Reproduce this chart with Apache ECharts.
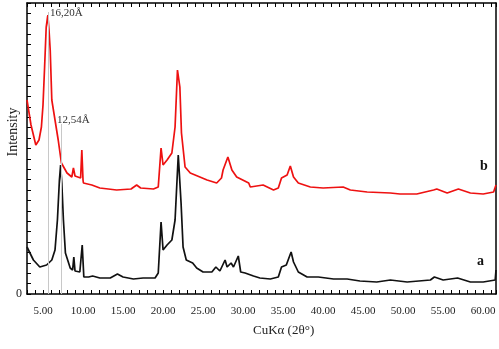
<!DOCTYPE html>
<html><head><meta charset="utf-8">
<script src="https://cdn.jsdelivr.net/npm/echarts@6/dist/echarts.min.js"></script>
<style>html,body{margin:0;padding:0;background:#fff}#c{width:499px;height:349px}</style>
</head><body><div id="c"></div>
<script>
// sample b (red): [2theta, intensity]
const seriesB = [[3.0,194],[3.5,169],[4.1,149],[4.5,154],[4.8,167],[5.0,189],[5.2,227],[5.4,267],[5.6,279],[5.75,264],[5.9,244],[6.1,194],[6.5,174],[6.9,154],[7.3,131],[8.0,121],[8.6,117],[8.8,126],[9.0,118],[9.2,116],[9.7,116],[9.85,144],[10.0,114],[10.05,111],[11.1,109],[12.1,106],[14.2,104],[16.0,105],[16.7,109],[17.2,106],[18.8,105],[19.4,107],[19.75,146],[20.0,129],[20.5,134],[21.1,141],[21.5,167],[21.8,224],[22.1,207],[22.3,161],[22.75,127],[23.4,121],[24.6,117],[25.5,114],[26.7,111],[27.3,116],[27.5,124],[28.1,137],[28.6,124],[29.2,117],[30.7,111],[30.9,107],[32.5,109],[33.8,104],[34.4,106],[34.8,116],[35.5,119],[35.9,128],[36.3,117],[36.9,111],[38.4,107],[40.0,106],[42.5,107],[43.4,104],[45.5,102],[48.4,101],[49.6,100],[51.7,100],[53.8,104],[54.2,105],[55.5,101],[56.9,105],[58.4,101],[60.0,100],[61.3,102],[61.6,109]];
// sample a (black)
const seriesA = [[3.0,47],[3.8,34],[4.6,27],[5.45,29],[6.1,34],[6.5,44],[6.8,74],[7.05,114],[7.2,129],[7.35,111],[7.55,74],[7.8,41],[8.4,26],[8.7,24],[8.85,37],[9.0,23],[9.6,22],[9.9,49],[10.1,17],[10.7,17],[11.2,18],[12.1,16],[13.4,16],[14.3,20],[15.0,17],[16.3,15],[17.5,16],[19.0,16],[19.4,21],[19.75,72],[20.0,44],[20.5,49],[21.1,54],[21.5,74],[21.9,139],[22.25,91],[22.5,47],[22.9,34],[23.7,31],[24.2,26],[25.0,22],[26.1,22],[26.6,27],[27.1,23],[27.75,34],[28.0,27],[28.5,31],[28.8,27],[29.4,38],[29.7,22],[30.25,21],[31.3,18],[32.1,16],[33.4,15],[34.4,17],[34.8,27],[35.4,29],[36.0,42],[36.3,32],[36.9,22],[38.0,17],[39.4,17],[41.3,15],[43.0,15],[44.6,13],[46.7,12],[48.4,14],[50.5,12],[53.4,14],[53.9,17],[55.0,14],[56.8,16],[58.4,12],[60.0,12],[61.5,14],[61.6,24]];
const refLines = [{x:5.6, top:282, label:'16,20Å'},{x:7.3, top:170, label:'12,54Å'}];
const seriesNames = ['b','a'];
const xMin = 3, xMax = 61.6, yMax = 291;

const serif = '"Liberation Serif","Times New Roman",serif';
const chart = echarts.init(document.getElementById('c'), null, {renderer:'canvas'});
const xCommon = {
  type:'value', min:xMin, max:xMax, interval:1,
  splitLine:{show:false},
  axisLine:{show:true, onZero:false, lineStyle:{color:'#000', width:1.5}},
  axisTick:{show:true, inside:true, length:4, lineStyle:{color:'#000', width:1}}
};
chart.setOption({
  animation:false,
  grid:{left:27, right:3, top:3, bottom:55, containLabel:false, outerBoundsMode:'none'},
  xAxis:[
    Object.assign({}, xCommon, {position:'bottom',
      axisLabel:{margin:12, fontFamily:serif, fontSize:11, color:'#222',
        formatter:v => (Math.abs(v % 5) < 1e-6 ? v.toFixed(2) : '')}}),
    Object.assign({}, xCommon, {position:'top', axisLabel:{show:false}})
  ],
  yAxis:[
    {type:'value', min:0, max:yMax, interval:10.4, position:'left',
     splitLine:{show:false},
     axisLine:{show:true, lineStyle:{color:'#000', width:1.5}},
     axisTick:{show:true, inside:true, length:4, lineStyle:{color:'#000'}},
     axisLabel:{margin:5, fontFamily:serif, fontSize:12, color:'#222', formatter:v => (v===0?'0':'')}},
    {type:'value', min:0, max:yMax, interval:10.4, position:'right',
     splitLine:{show:false}, axisLine:{show:true, lineStyle:{color:'#000', width:1.5}},
     axisTick:{show:false}, axisLabel:{show:false}}
  ],
  series:[
    {name:seriesNames[0], type:'line', data:seriesB, symbol:'none', smooth:false,
     lineStyle:{color:'#ee1111', width:1.7}, z:3,
     markLine:{silent:true, symbol:'none', animation:false,
       lineStyle:{color:'#c8c8c8', width:1, type:'solid'}, label:{show:false},
       data: refLines.map(r => [{coord:[r.x,0]},{coord:[r.x,r.top]}])}},
    {name:seriesNames[1], type:'line', data:seriesA, symbol:'none', smooth:false,
     lineStyle:{color:'#111', width:1.7}, z:4}
  ],
  graphic:[
    {type:'text', x:13, y:132, rotation:Math.PI/2,
     style:{text:'Intensity', font:'14px '+serif, fill:'#222', textAlign:'center', textVerticalAlign:'middle'}},
    {type:'text', left:50, top:8, style:{text:refLines[0].label, font:'11px '+serif, fill:'#333'}},
    {type:'text', left:57, top:115, style:{text:refLines[1].label, font:'11px '+serif, fill:'#333'}},
    {type:'text', left:480, top:159, style:{text:seriesNames[0], font:'bold 14px '+serif, fill:'#111'}},
    {type:'text', left:477, top:254, style:{text:seriesNames[1], font:'bold 14px '+serif, fill:'#111'}},
    {type:'text', left:253, top:324, style:{text:'CuKα (2θ°)', font:'13px '+serif, fill:'#222'}}
  ]
});
</script></body></html>
